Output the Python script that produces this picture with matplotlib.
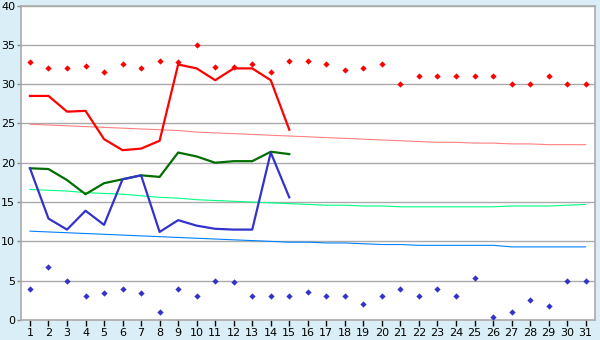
import matplotlib
matplotlib.use("Agg")
import matplotlib.pyplot as plt

days = list(range(1, 32))
record_high = [32.8, 32.0, 32.0, 32.3, 31.6, 32.5, 32.0, 33.0, 32.8, 35.0,
               32.2, 32.2, 32.5, 31.5, 33.0, 33.0, 32.5, 31.8, 32.0, 32.5,
               30.0, 31.0, 31.0, 31.0, 31.0, 31.0, 30.0, 30.0, 31.0, 30.0, 30.0]
record_low = [4.0, 6.8, 5.0, 3.0, 3.4, 4.0, 3.4, 1.0, 4.0, 3.0,
              5.0, 4.8, 3.0, 3.0, 3.0, 3.6, 3.0, 3.0, 2.0, 3.0,
              4.0, 3.0, 4.0, 3.0, 5.3, 0.4, 1.0, 2.6, 1.8, 5.0, 5.0]
obs_days = list(range(1, 16))
tmax = [28.5, 28.5, 26.5, 26.6, 23.0, 21.6, 21.8, 22.8, 32.5, 32.0,
        30.5, 32.0, 32.0, 30.5, 24.2]
tmean = [19.3, 19.2, 17.8, 16.0, 17.4, 17.9, 18.4, 18.2, 21.3, 20.8,
         20.0, 20.2, 20.2, 21.4, 21.1]
tmin = [19.3, 12.9, 11.5, 13.9, 12.1, 17.9, 18.4, 11.2, 12.7, 12.0,
        11.6, 11.5, 11.5, 21.3, 15.6]
norm_max = [24.9, 24.8, 24.7, 24.6, 24.5, 24.4, 24.3, 24.2, 24.1, 23.9,
            23.8, 23.7, 23.6, 23.5, 23.4, 23.3, 23.2, 23.1, 23.0, 22.9,
            22.8, 22.7, 22.6, 22.6, 22.5, 22.5, 22.4, 22.4, 22.3, 22.3, 22.3]
norm_mean = [16.6, 16.5, 16.4, 16.2, 16.1, 16.0, 15.8, 15.6, 15.5, 15.3,
             15.2, 15.1, 15.0, 14.9, 14.8, 14.7, 14.6, 14.6, 14.5, 14.5,
             14.4, 14.4, 14.4, 14.4, 14.4, 14.4, 14.5, 14.5, 14.5, 14.6, 14.7]
norm_min = [11.3, 11.2, 11.1, 11.0, 10.9, 10.8, 10.7, 10.6, 10.5, 10.4,
            10.3, 10.2, 10.1, 10.0, 9.9, 9.9, 9.8, 9.8, 9.7, 9.6,
            9.6, 9.5, 9.5, 9.5, 9.5, 9.5, 9.3, 9.3, 9.3, 9.3, 9.3]
y_ticks = [0, 5, 10, 15, 20, 25, 30, 35, 40]

bg = "#D9EEF6"
fig = plt.figure(figsize=(6, 3.4), dpi=100, facecolor=bg)
ax = fig.add_axes([0.0345, 0.0588, 0.957, 0.925])
ax.set_facecolor("white")

for y in y_ticks[1:]:
    ax.axhline(y, color="#AAAAAA", lw=1.0, zorder=1)

ax.plot(days, norm_max, color="#FF8080", lw=0.8, zorder=2)
ax.plot(days, norm_mean, color="#00FF80", lw=0.8, zorder=2)
ax.plot(days, norm_min, color="#0080FF", lw=0.8, zorder=2)

ax.plot(obs_days, tmax, color="#FF0000", lw=1.6, zorder=3)
ax.plot(obs_days, tmean, color="#006E00", lw=1.6, zorder=3)
ax.plot(obs_days, tmin, color="#3333CC", lw=1.6, zorder=3)

ax.plot(days, record_high, linestyle="none", marker="D", ms=3.2, mew=0, color="#FF0000", zorder=4)
ax.plot(days, record_low, linestyle="none", marker="D", ms=3.2, mew=0, color="#3333CC", zorder=4)

ax.set_xlim(0.5, 31.5)
ax.set_ylim(0, 40)
ax.set_xticks(days)
ax.set_xticklabels([str(d) for d in days])
ax.set_yticks(y_ticks)
ax.tick_params(axis="x", length=4, width=1, color="black", labelsize=8, pad=2)
ax.tick_params(axis="y", length=3, width=1, color="#888888", labelsize=8, pad=1)
for s in ax.spines.values():
    s.set_color("#AAAAAA")
    s.set_linewidth(1.2)

fig.savefig("out.png", dpi=100, facecolor=bg)
